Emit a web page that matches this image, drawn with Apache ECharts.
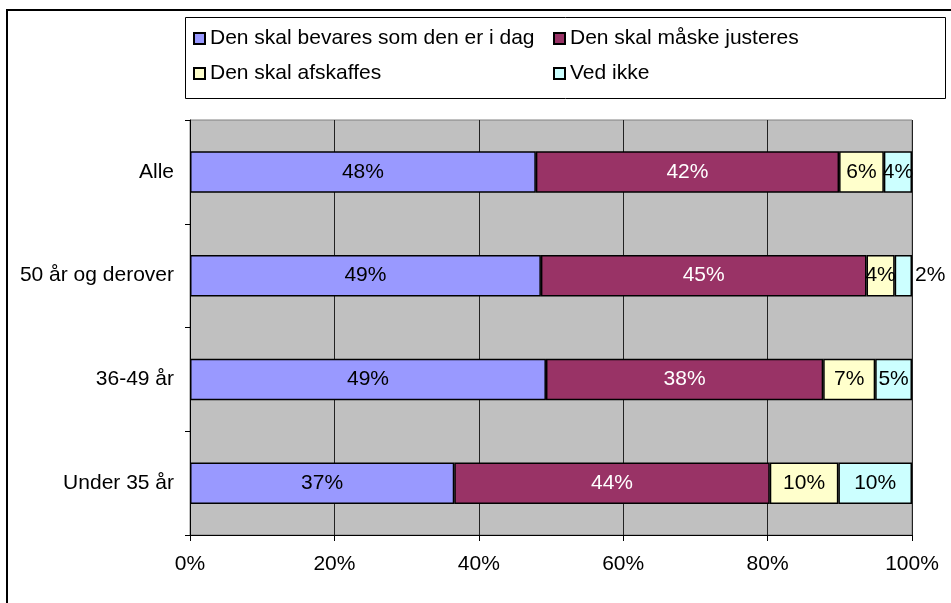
<!DOCTYPE html>
<html>
<head>
<meta charset="utf-8">
<script src="https://cdn.jsdelivr.net/npm/echarts@6/dist/echarts.min.js"></script>
<style>html,body{margin:0;padding:0;background:#fff}#c{width:951px;height:603px}</style>
</head>
<body>
<div id="c"></div>
<script>
const categories = ['Alle', '50 år og derover', '36-49 år', 'Under 35 år'];
const seriesNames = ['Den skal bevares som den er i dag', 'Den skal måske justeres', 'Den skal afskaffes', 'Ved ikke'];
const bevares = [47.9, 48.6, 49.3, 36.6];
const justeres = [42.0, 45.1, 38.4, 43.7];
const afskaffes = [6.2, 3.9, 7.2, 9.5];
const vedIkke = [3.9, 2.4, 5.1, 10.2];
const xTicks = [0, 20, 40, 60, 80, 100];

const FONT = 'Liberation Sans, Arial, sans-serif';
const FS = 21;
const colors = ['#9999FF', '#993366', '#FFFFCC', '#CCFFFF'];
const labelColors = ['#000', '#fff', '#000', '#000'];
const allData = [bevares, justeres, afskaffes, vedIkke];

const series = allData.map((arr, si) => ({
  name: seriesNames[si],
  type: 'bar',
  stack: 'total',
  barCategoryGap: '60%',
  itemStyle: { color: colors[si], borderColor: '#000', borderWidth: 1.5 },
  label: {
    show: true,
    position: 'inside',
    formatter: p => Math.round(p.value) + '%',
    color: labelColors[si],
    fontFamily: FONT,
    fontSize: FS
  },
  data: arr.map((v, i) => {
    if (si === 3 && i === 1) {
      return { value: v, label: { position: 'right', distance: 3, color: '#000' } };
    }
    return v;
  })
}));

const legends = seriesNames.map((n, i) => ({
  data: [n],
  left: i % 2 === 0 ? 193 : 553,
  top: i < 2 ? 28 : 63,
  padding: 0,
  itemWidth: 11,
  itemHeight: 11,
  itemGap: 0,
  textStyle: { fontFamily: FONT, fontSize: FS, color: '#000' },
  icon: 'rect',
  selectedMode: false
}));

const chart = echarts.init(document.getElementById('c'));
chart.setOption({
  animation: false,
  backgroundColor: '#fff',
  graphic: [
    { type: 'rect', shape: { x: 7, y: 10, width: 1000, height: 700 }, style: { fill: 'none', stroke: '#000', lineWidth: 2 }, silent: true, z: -1 },
    { type: 'rect', shape: { x: 185.5, y: 17.5, width: 760, height: 81 }, style: { fill: '#fff', stroke: '#000', lineWidth: 1 }, silent: true, z: 0 }
  ],
  legend: legends,
  grid: {
    left: 190, right: 39, top: 120, bottom: 68,
    show: true, backgroundColor: '#C0C0C0', borderColor: '#808080', borderWidth: 1
  },
  xAxis: {
    type: 'value',
    min: 0, max: 100, interval: 20,
    axisLine: { show: true, lineStyle: { color: '#000', width: 1 } },
    axisTick: { show: true, length: 6, lineStyle: { color: '#000' } },
    splitLine: { show: true, lineStyle: { color: '#222', width: 1 } },
    axisLabel: { formatter: v => xTicks.includes(v) ? v + '%' : '', fontFamily: FONT, fontSize: FS, color: '#000', margin: 19 }
  },
  yAxis: {
    type: 'category',
    data: categories,
    inverse: true,
    axisLine: { show: true, lineStyle: { color: '#000', width: 1 } },
    axisTick: { show: true, length: 5, lineStyle: { color: '#000' } },
    axisLabel: { fontFamily: FONT, fontSize: FS, color: '#000', margin: 16 }
  },
  series: series
});
</script>
</body>
</html>
